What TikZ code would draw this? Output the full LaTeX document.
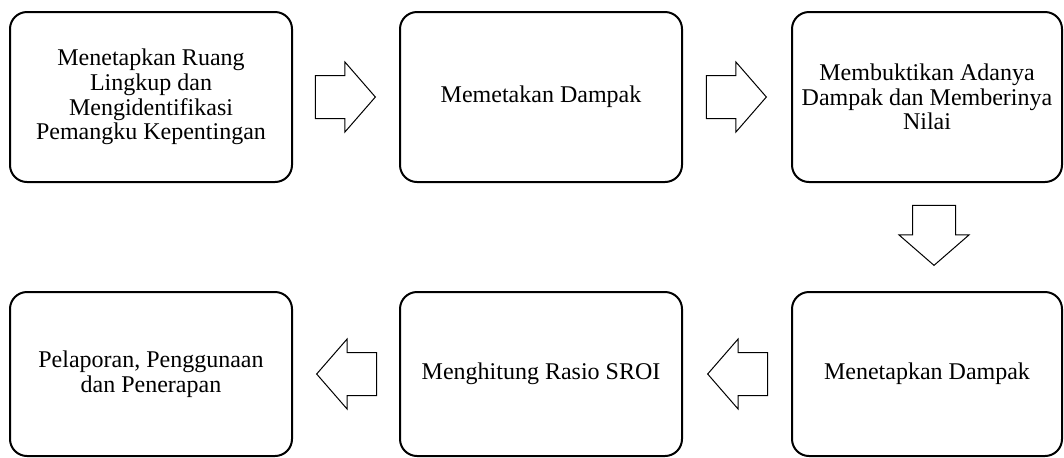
\documentclass[tikz,border=0pt]{standalone}
\usepackage{fontspec}
\setmainfont{Liberation Serif}
\usetikzlibrary{positioning}
\usetikzlibrary{calc}
\usetikzlibrary{shapes.arrows}

\begin{document}
\begin{tikzpicture}[align=center, font=\fontsize{12}{12.3}\selectfont,
    stepbox/.style={draw, rectangle, rounded corners=8.5pt, line width=1pt, minimum width=141pt, minimum height=85pt, inner sep=0pt, outer sep=0pt},
    flowarrow/.style={draw, single arrow, line width=0.5pt, single arrow head extend=6.75pt, single arrow tip angle=98, minimum height=30pt, inner xsep=0pt, inner ysep=10.5pt, outer sep=0pt}]
    \useasboundingbox (0,0) rectangle (532pt,-228.5pt);
    \node[stepbox] (lingkup) at (75.5pt,-48.5pt) {Menetapkan Ruang\\Lingkup dan\\Mengidentifikasi\\Pemangku Kepentingan};
    \node[stepbox, right = 54pt of lingkup] (peta) {Memetakan Dampak};
    \node[stepbox, minimum width=135pt, right = 55pt of peta] (bukti) {Membuktikan Adanya\\Dampak dan Memberinya\\Nilai};
    \node[stepbox, minimum width=135pt, minimum height=82pt, below = 55pt of bukti] (tetap) {Menetapkan Dampak};
    \node[stepbox, minimum height=82pt, left = 55pt of tetap] (rasio) {Menghitung Rasio SROI};
    \node[stepbox, minimum height=82pt, left = 54pt of rasio] (lapor) {Pelaporan, Penggunaan\\dan Penerapan};

    % panah blok antar tahap
    \node[flowarrow] (p1) at ($(lingkup.east)!0.5!(peta.west)+(-5pt,0)$) {};
    \node[flowarrow] (p2) at ($(peta.east)!0.5!(bukti.west)+(-5pt,0)$) {};
    \node[flowarrow, rotate=-90] (p3) at ($(bukti.south)!0.5!(tetap.north)+(3.5pt,5.5pt)$) {};
    \node[flowarrow, rotate=180] (p4) at ($(tetap.west)!0.5!(rasio.east)+(5pt,0)$) {};
    \node[flowarrow, rotate=180] (p5) at ($(rasio.west)!0.5!(lapor.east)+(5pt,0)$) {};
\end{tikzpicture}
\end{document}
